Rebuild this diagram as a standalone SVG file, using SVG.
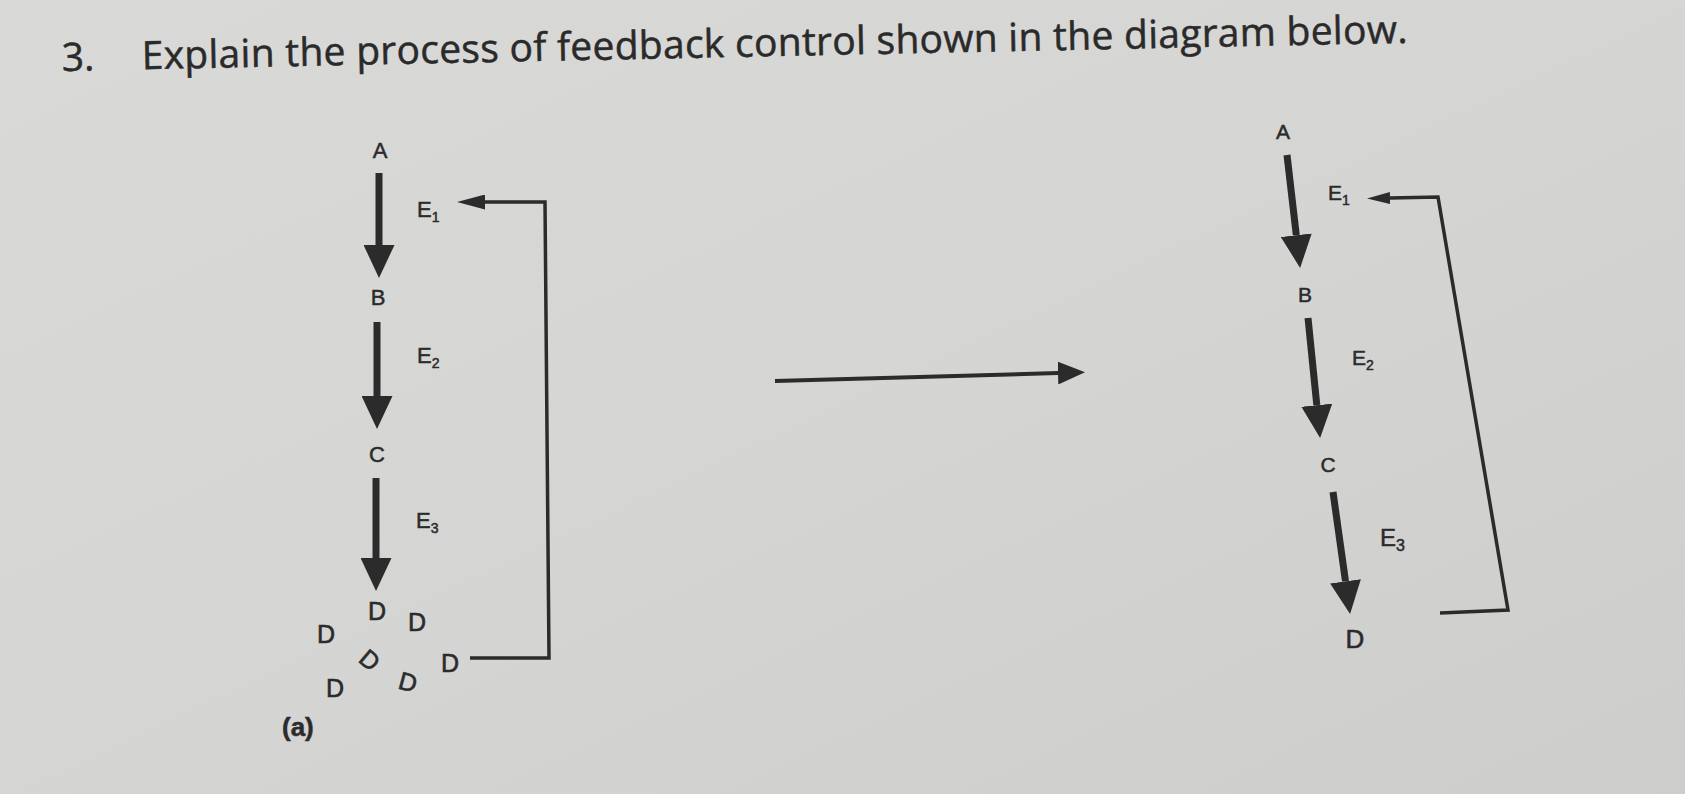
<svg xmlns="http://www.w3.org/2000/svg" width="1685" height="794" viewBox="0 0 1685 794">
  <defs>
    <linearGradient id="paper" x1="0" y1="0" x2="1" y2="1">
      <stop offset="0" stop-color="#d9d9d7"/>
      <stop offset="0.5" stop-color="#d5d5d3"/>
      <stop offset="1" stop-color="#cdcdcb"/>
    </linearGradient>
    <marker id="headBig" markerUnits="userSpaceOnUse" markerWidth="33" markerHeight="31" viewBox="0 0 33 31" refX="0" refY="15.5" orient="auto">
      <path d="M0,0 L33,15.5 L0,31 Z" fill="#2b2b2b"/>
    </marker>
    <marker id="headThin" markerUnits="userSpaceOnUse" markerWidth="28" markerHeight="15" viewBox="0 0 28 15" refX="0" refY="7.5" orient="auto">
      <path d="M0,0 L28,7.5 L0,15 Z" fill="#2b2b2b"/>
    </marker>
    <marker id="headSmall" markerUnits="userSpaceOnUse" markerWidth="23" markerHeight="12" viewBox="0 0 23 12" refX="0" refY="6" orient="auto">
      <path d="M0,0 L23,6 L0,12 Z" fill="#2b2b2b"/>
    </marker>
    <marker id="headMid" markerUnits="userSpaceOnUse" markerWidth="27" markerHeight="23" viewBox="0 0 27 23" refX="0" refY="11.5" orient="auto">
      <path d="M0,0 L27,11.5 L0,23 Z" fill="#2b2b2b"/>
    </marker>
  </defs>
  <style>
    .lbl { font-family: "Liberation Sans", Arial, sans-serif; fill: #2b2b2b; stroke: #2b2b2b; stroke-width: 0.5; font-size: 22px; }
    .lblR { font-family: "Liberation Sans", Arial, sans-serif; fill: #2b2b2b; stroke: #2b2b2b; stroke-width: 0.5; font-size: 21px; }
    .dd { font-family: "Liberation Sans", Arial, sans-serif; fill: #2b2b2b; stroke: #2b2b2b; stroke-width: 0.6; font-size: 25px; text-anchor: middle; }
    .mid { text-anchor: middle; }
    .sub { font-size: 14px; }
    .title { font-family: "Open Sans", "Liberation Sans", sans-serif; fill: #2a2a2a; stroke: #2a2a2a; stroke-width: 0.5; font-size: 39px; }
    .thick { stroke: #2b2b2b; stroke-width: 7; fill: none; marker-end: url(#headBig); }
    .thin { stroke: #2b2b2b; stroke-width: 3.5; fill: none; }
  </style>

  <rect x="0" y="0" width="1685" height="794" fill="url(#paper)"/>

  <g id="title" transform="rotate(-1.2 62 71)">
    <text class="title" x="62" y="71">3.</text>
    <text class="title" x="142" y="71" textLength="1266" lengthAdjust="spacing">Explain the process of feedback control shown in the diagram below.</text>
  </g>

  <g id="connectors">
    <line class="thick" x1="379" y1="173" x2="379" y2="245"/>
    <line class="thick" x1="377" y1="322" x2="377" y2="396"/>
    <line class="thick" x1="376" y1="478" x2="376" y2="558"/>
    <path class="thin" d="M470,658 L549,658 L545,202 L485,202" marker-end="url(#headThin)"/>
    <line x1="775" y1="381" x2="1058" y2="373" stroke="#2b2b2b" stroke-width="4" marker-end="url(#headMid)"/>
    <line class="thick" x1="1287" y1="155" x2="1296.3" y2="235.2"/>
    <line class="thick" x1="1308" y1="318" x2="1316.8" y2="405.2"/>
    <line class="thick" x1="1333" y1="492" x2="1345.5" y2="581.3"/>
    <path class="thin" d="M1440,613 L1508,610 L1438,197 L1390,198" marker-end="url(#headSmall)"/>
  </g>

  <g id="left-A"><text class="lbl mid" x="380" y="158">A</text></g>
  <g id="left-E1"><text class="lbl" x="417" y="217">E<tspan class="sub" dy="5">1</tspan></text></g>
  <g id="left-B"><text class="lbl mid" x="378" y="305">B</text></g>
  <g id="left-E2"><text class="lbl" x="417" y="363">E<tspan class="sub" dy="5">2</tspan></text></g>
  <g id="left-C"><text class="lbl mid" x="377" y="462">C</text></g>
  <g id="left-E3"><text class="lbl" x="416" y="528">E<tspan class="sub" dy="5">3</tspan></text></g>
  <g id="left-D">
    <text class="dd" x="377" y="620">D</text>
    <text class="dd" x="417" y="631">D</text>
    <text class="dd" x="326" y="643">D</text>
    <text class="dd" transform="translate(370 660) rotate(40)" x="0" y="9">D</text>
    <text class="dd" x="450" y="672">D</text>
    <text class="dd" x="335" y="697">D</text>
    <text class="dd" transform="translate(408 682) rotate(15)" x="0" y="9">D</text>
  </g>
  <g id="label-a"><text class="lbl" x="282" y="736" style="font-weight:bold;font-size:26px">(a)</text></g>

  <g id="right-A"><text class="lblR mid" x="1283" y="139">A</text></g>
  <g id="right-E1"><text class="lblR" x="1328" y="200">E<tspan class="sub" dy="5">1</tspan></text></g>
  <g id="right-B"><text class="lblR mid" x="1305" y="302">B</text></g>
  <g id="right-E2"><text class="lblR" x="1352" y="365">E<tspan class="sub" dy="5">2</tspan></text></g>
  <g id="right-C"><text class="lblR mid" x="1328" y="472">C</text></g>
  <g id="right-E3"><text class="lblR" x="1380" y="546" style="font-size:24px">E<tspan class="sub" dy="5" style="font-size:16px">3</tspan></text></g>
  <g id="right-D"><text class="dd" x="1355" y="648" style="font-size:26px">D</text></g>
</svg>
